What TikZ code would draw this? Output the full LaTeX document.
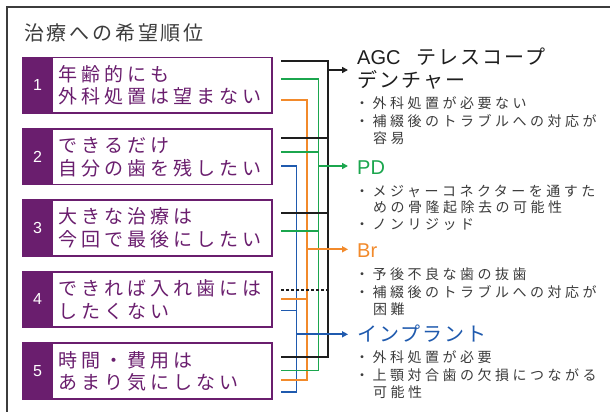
\documentclass[tikz,border=0pt]{standalone}
\usepackage{fontspec}
\usetikzlibrary{arrows.meta,calc}
\setmainfont{Liberation Sans}
\newfontfamily\jptitle[LetterSpace=14]{Noto Sans CJK JP}
\newfontfamily\jpbox[LetterSpace=21]{Noto Sans CJK JP}
\newfontfamily\jphead[LetterSpace=10]{Noto Sans CJK JP}
\newfontfamily\jpnote[LetterSpace=25]{Noto Sans CJK JP}
\definecolor{pur}{HTML}{6A1E6E}
\definecolor{cgreen}{HTML}{1BA64E}
\definecolor{corange}{HTML}{F28A2B}
\definecolor{cblue}{HTML}{1F5AAE}
\definecolor{cblack}{HTML}{1E1E1E}
\definecolor{cgrey}{HTML}{3C3C3C}
\tikzset{
  frameline/.style={draw=cgrey, line width=1.2pt},
  boxframe/.style={draw=pur, line width=1.8pt, fill=white, anchor=north west,
    minimum width=249pt, minimum height=55.5pt, inner sep=0pt},
  numbox/.style={fill=pur, anchor=north west, minimum width=31.3pt,
    minimum height=57.3pt, inner sep=0pt, outer sep=0pt, text=white,
    font=\fontsize{16}{16}\selectfont},
  boxtext/.style={anchor=base west, inner sep=0pt, text=pur,
    font=\jpbox\fontsize{19}{19}\selectfont},
  headtext/.style={anchor=base west, inner sep=0pt, font=\fontsize{20}{20}\selectfont},
  notetext/.style={anchor=base west, inner sep=0pt, text=cgrey,
    font=\jpnote\fontsize{14}{14}\selectfont},
  conn/.style={line width=1.8pt},
  lk/.style={conn, draw=cblack},
  lg/.style={conn, draw=cgreen},
  lo/.style={conn, draw=corange},
  lb/.style={conn, draw=cblue},
  tip/.style={-{Triangle[length=6pt,width=6pt]}},
}
\begin{document}
\begin{tikzpicture}[x=1pt,y=-1pt]
\useasboundingbox (0,0) rectangle (610,412);
\fill[white] (0,0) rectangle (610,412);
\draw[frameline] (612,7) -- (7,7) -- (7,414);

% title
\node[anchor=base west, inner sep=0pt, text=cgrey, font=\jptitle\fontsize{20}{20}\selectfont]
  (title) at (24,41) {治療への希望順位};

% boxes
\node[boxframe] (b1) at (22,56.7) {};
\node[boxframe] (b2) at (22,128) {};
\node[boxframe] (b3) at (22,199.3) {};
\node[boxframe] (b4) at (22,270.7) {};
\node[boxframe] (b5) at (22,342.3) {};
\node[numbox] (n1) at (22,56.7) {1};
\node[numbox] (n2) at (22,128) {2};
\node[numbox] (n3) at (22,199.3) {3};
\node[numbox] (n4) at (22,270.7) {4};
\node[numbox] (n5) at (22,342.3) {5};

\node[boxtext] (t1a) at (58.5,81.2) {年齢的にも};
\node[boxtext] (t1b) at (58.5,103.8) {外科処置は望まない};
\node[boxtext] (t2a) at (58.5,152.6) {できるだけ};
\node[boxtext] (t2b) at (58.5,175.2) {自分の歯を残したい};
\node[boxtext] (t3a) at (58.5,223.9) {大きな治療は};
\node[boxtext] (t3b) at (58.5,246.5) {今回で最後にしたい};
\node[boxtext] (t4a) at (58.5,295.4) {できれば入れ歯には};
\node[boxtext] (t4b) at (58.5,318) {したくない};
\node[boxtext] (t5a) at (58.5,367.1) {時間・費用は};
\node[boxtext] (t5b) at (58.5,389.7) {あまり気にしない};

% headings
\node[headtext, text=cblack] (hA1) at (357,65) {AGC\hspace{16pt}{\jphead テレスコープ}};
\node[headtext, text=cblack] (hA2) at (357,87.5) {\jphead デンチャー};
\node[headtext, text=cgreen] (hP) at (357,174) {PD};
\node[headtext, text=corange] (hB) at (357,257.3) {Br};
\node[headtext, text=cblue] (hI) at (357,341.6) {\jphead インプラント};

% notes
\node[notetext] (nA1) at (355,108.6) {・外科処置が必要ない};
\node[notetext] (nA2) at (355,126.2) {・補綴後のトラブルへの対応が};
\node[notetext] (nA3) at (373,143.6) {容易};
\node[notetext] (nP1) at (355,196) {・メジャーコネクターを通すた};
\node[notetext] (nP2) at (373,212.6) {めの骨隆起除去の可能性};
\node[notetext] (nP3) at (355,229) {・ノンリジッド};
\node[notetext] (nB1) at (355,279.3) {・予後不良な歯の抜歯};
\node[notetext] (nB2) at (355,297) {・補綴後のトラブルへの対応が};
\node[notetext] (nB3) at (373,314.3) {困難};
\node[notetext] (nI1) at (355,362.6) {・外科処置が必要};
\node[notetext] (nI2) at (355,380.3) {・上顎対合歯の欠損につながる};
\node[notetext] (nI3) at (373,397.6) {可能性};

% vertical bus positions
\coordinate (vk) at (328.3,0);
\coordinate (vg) at (318.5,0);
\coordinate (vo) at (306.7,0);
\coordinate (vb) at (296.5,0);
% arrow tips
\coordinate (aA) at ($(hA1.base west)+(-9,5)$);
\coordinate (aP) at ($(hP.base west)+(-9,-8)$);
\coordinate (aB) at ($(hB.base west)+(-9,-8)$);
\coordinate (aI) at ($(hI.base west)+(-9,-7.3)$);
% line starts (relative to box east anchors)
\coordinate (s1k) at ($(b1.east)+(8.3,-24.6)$);
\coordinate (s1g) at ($(b1.east)+(8.3,-6)$);
\coordinate (s1o) at ($(b1.east)+(8.3,14.7)$);
\coordinate (s2k) at ($(b2.east)+(8.3,-19)$);
\coordinate (s2g) at ($(b2.east)+(8.3,-4.4)$);
\coordinate (s2b) at ($(b2.east)+(8.3,9)$);
\coordinate (s3k) at ($(b3.east)+(8.3,-15.3)$);
\coordinate (s3g) at ($(b3.east)+(8.3,3)$);
\coordinate (s4k) at ($(b4.east)+(8.3,-9.5)$);
\coordinate (s4o) at ($(b4.east)+(8.3,-0.5)$);
\coordinate (s4b) at ($(b4.east)+(8.3,11.2)$);
\coordinate (s5k) at ($(b5.east)+(8.3,-13.9)$);
\coordinate (s5g) at ($(b5.east)+(8.3,-0.5)$);
\coordinate (s5o) at ($(b5.east)+(8.3,8.8)$);
\coordinate (s5b) at ($(b5.east)+(8.3,20.8)$);

% blue (Implant)
\draw[lb] (s2b) -| (vb |- s5b) -- (s5b);
\draw[lb] (s4b) -- (vb |- s4b);
% orange (Br)
\draw[lo] (s1o) -| (vo |- s5o) -- (s5o);
\draw[lo] (s4o) -- (vo |- s4o);
% green (PD)
\draw[lg] (s1g) -| (vg |- s5g) -- (s5g);
\draw[lg] (s2g) -- (vg |- s2g);
\draw[lg] (s3g) -- (vg |- s3g);
% black (AGC)
\draw[lk] (s1k) -| (vk |- s5k) -- (s5k);
\draw[lk] (s2k) -- (vk |- s2k);
\draw[lk] (s3k) -- (vk |- s3k);
\draw[lk, dash pattern=on 3pt off 2pt] (s4k) -- (vk |- s4k);
% arrows
\draw[lk, tip] (vk |- aA) -- (aA);
\draw[lg, tip] (vg |- aP) -- (aP);
\draw[lo, tip] (vo |- aB) -- (aB);
\draw[lb, tip] (vb |- aI) -- (aI);
\end{tikzpicture}
\end{document}
